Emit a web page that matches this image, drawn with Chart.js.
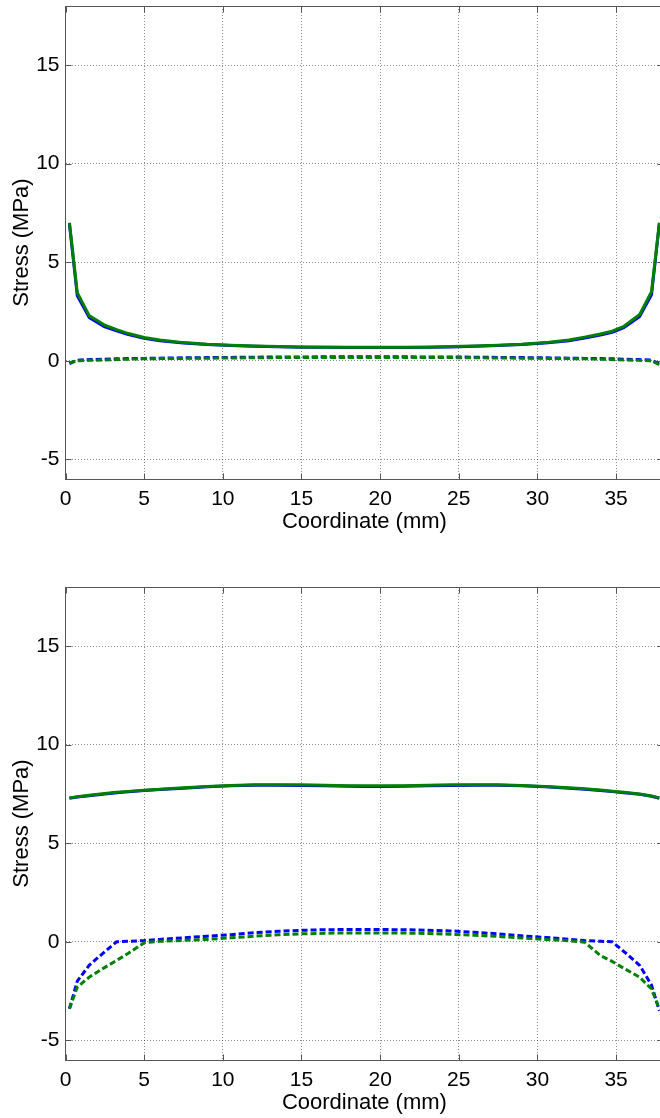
<!DOCTYPE html>
<html><head><meta charset="utf-8">
<script src="https://cdn.jsdelivr.net/npm/chart.js@4/dist/chart.umd.min.js"></script>
<style>
html,body{margin:0;padding:0;background:#fff;overflow:hidden;width:660px;height:1118px;position:relative;}
.wrap{position:absolute;left:0;width:664px;}
canvas{display:block;}
</style></head><body>
<div class="wrap" style="top:0;height:537px"><canvas id="c1" width="664" height="537"></canvas></div>
<div class="wrap" style="top:537px;height:581px"><canvas id="c2" width="664" height="581"></canvas></div>
<script>
const xNodes = [0.25,0.75,1.5,2.5,3.25,4,5,6,7.5,9,10.5,12,13.5,15,16.5,18,19,20,21.5,23,24.5,26,27.5,29,30.5,32,33,34,34.75,35.5,36.5,37.25,37.75];
const xTicks = [0,5,10,15,20,25,30,35];
const yTicks = [-5,0,5,10,15];

const topGreenSolid = [7.0,3.45,2.3,1.8,1.58,1.38,1.18,1.05,0.92,0.84,0.79,0.75,0.72,0.70,0.69,0.68,0.68,0.68,0.68,0.69,0.72,0.75,0.79,0.84,0.92,1.05,1.2,1.36,1.5,1.75,2.35,3.5,7.0];
const topBlueSolid = [6.95,3.3,2.2,1.72,1.52,1.33,1.14,1.02,0.9,0.82,0.77,0.73,0.71,0.69,0.68,0.67,0.67,0.67,0.67,0.68,0.7,0.73,0.77,0.82,0.9,1.02,1.15,1.3,1.44,1.68,2.25,3.35,6.95];
const topBlueDashed = [-0.15,0.03,0.06,0.08,0.1,0.11,0.12,0.13,0.15,0.16,0.17,0.18,0.19,0.19,0.2,0.2,0.2,0.2,0.2,0.19,0.19,0.18,0.17,0.16,0.15,0.13,0.12,0.11,0.1,0.08,0.06,0.03,-0.15];
const topGreenDashed = [-0.1,0.0,0.02,0.04,0.06,0.08,0.1,0.11,0.12,0.13,0.14,0.15,0.16,0.16,0.17,0.17,0.17,0.17,0.17,0.16,0.16,0.15,0.14,0.13,0.12,0.11,0.1,0.08,0.06,0.04,0.02,0.0,-0.2];

const botGreenSolid = [7.3,7.36,7.43,7.52,7.58,7.63,7.69,7.74,7.81,7.88,7.93,7.96,7.97,7.96,7.94,7.92,7.91,7.91,7.92,7.94,7.96,7.97,7.96,7.93,7.88,7.81,7.76,7.7,7.64,7.58,7.5,7.4,7.3];
const botBlueSolid = [7.28,7.34,7.41,7.5,7.56,7.61,7.67,7.72,7.79,7.86,7.91,7.94,7.94,7.93,7.91,7.89,7.88,7.88,7.89,7.91,7.93,7.94,7.94,7.91,7.86,7.79,7.74,7.68,7.62,7.56,7.48,7.38,7.28];
const botBlueDashed = [-3.4,-2.0,-1.2,-0.5,0.0,0.02,0.06,0.12,0.2,0.28,0.36,0.46,0.53,0.58,0.61,0.62,0.62,0.62,0.61,0.58,0.55,0.48,0.4,0.3,0.22,0.12,0.06,0.02,0.0,-0.5,-1.2,-2.2,-3.5];
const botGreenDashed = [-3.4,-2.3,-1.8,-1.3,-0.95,-0.58,-0.05,0.02,0.07,0.12,0.2,0.28,0.35,0.4,0.43,0.45,0.45,0.45,0.44,0.42,0.38,0.33,0.27,0.19,0.12,0.05,-0.02,-0.7,-1.0,-1.35,-1.8,-2.4,-3.4];

const BLUE = '#0000ff', GREEN = '#008000';
const FONT = '"Liberation Sans", Arial, Helvetica, sans-serif';

const framePlugin = {
  id: 'frame',
  afterDraw(chart) {
    const {ctx, chartArea: a, scales: {x, y}} = chart;
    ctx.save();
    ctx.strokeStyle = '#555';
    ctx.lineWidth = 1;
    ctx.setLineDash([]);
    const L = Math.floor(a.left) + 0.5, R = Math.floor(a.right) + 0.5;
    const T = Math.round(a.top) + 0.5, B = Math.round(a.bottom) + 0.5;
    ctx.strokeRect(L, T, R - L, B - T);
    ctx.beginPath();
    x.ticks.forEach(t => {
      const px = Math.round(x.getPixelForValue(t.value)) + 0.5;
      ctx.moveTo(px, B); ctx.lineTo(px, B - 6);
      ctx.moveTo(px, T); ctx.lineTo(px, T + 6);
    });
    y.ticks.forEach(t => {
      const py = Math.round(y.getPixelForValue(t.value)) + 0.5;
      ctx.moveTo(L, py); ctx.lineTo(L + 6, py);
      ctx.moveTo(R, py); ctx.lineTo(R - 6, py);
    });
    ctx.stroke();
    ctx.restore();
  }
};

function ds(values, color, dashed) {
  return {
    data: xNodes.map((x, i) => ({x: x, y: values[i]})),
    borderColor: color,
    borderWidth: 3,
    borderDash: dashed ? [6, 3] : [],
    pointRadius: 0,
    tension: 0,
    fill: false,
    borderCapStyle: 'butt',
    borderJoinStyle: 'round'
  };
}

function makeChart(id, sets, padTop) {
  return new Chart(document.getElementById(id), {
    type: 'line',
    data: {datasets: sets},
    options: {
      responsive: false,
      animation: false,
      events: [],
      layout: {padding: {top: padTop, left: 0, right: 0.7, bottom: 0}},
      plugins: {legend: {display: false}, tooltip: {enabled: false}},
      scales: {
        x: {
          type: 'linear', min: 0, max: 38,
          afterBuildTicks: s => { s.ticks = xTicks.map(v => ({value: v})); },
          afterFit: s => { s.height = 58; s.paddingLeft = 0; s.paddingRight = 0; },
          grid: {color: 'rgba(0,0,0,0.45)', lineWidth: 1, drawTicks: false},
          border: {display: false, dash: [1, 2]},
          ticks: {color: '#000', padding: 8, maxRotation: 0, autoSkip: false, font: {family: FONT, size: 21}},
          title: {display: true, text: 'Coordinate (mm)', color: '#000', font: {family: FONT, size: 22}, padding: {top: 0, bottom: 2}}
        },
        y: {
          type: 'linear', min: -6, max: 18,
          afterBuildTicks: s => { s.ticks = yTicks.map(v => ({value: v})); },
          afterFit: s => { s.width = 65.5; s.paddingTop = 0; s.paddingBottom = 0; },
          grid: {color: 'rgba(0,0,0,0.45)', lineWidth: 1, drawTicks: false},
          border: {display: false, dash: [1, 2]},
          ticks: {color: '#000', padding: 6, autoSkip: false, font: {family: FONT, size: 21}},
          title: {display: true, text: 'Stress (MPa)', color: '#000', font: {family: FONT, size: 22}, padding: {top: 9, bottom: 0}}
        }
      }
    },
    plugins: [framePlugin]
  });
}

makeChart('c1', [
  ds(topGreenSolid, GREEN, false),
  ds(topGreenDashed, GREEN, true),
  ds(topBlueSolid, BLUE, false),
  ds(topBlueDashed, BLUE, true)
], 6);

makeChart('c2', [
  ds(botGreenSolid, GREEN, false),
  ds(botGreenDashed, GREEN, true),
  ds(botBlueSolid, BLUE, false),
  ds(botBlueDashed, BLUE, true)
], 50);
</script>
</body></html>
